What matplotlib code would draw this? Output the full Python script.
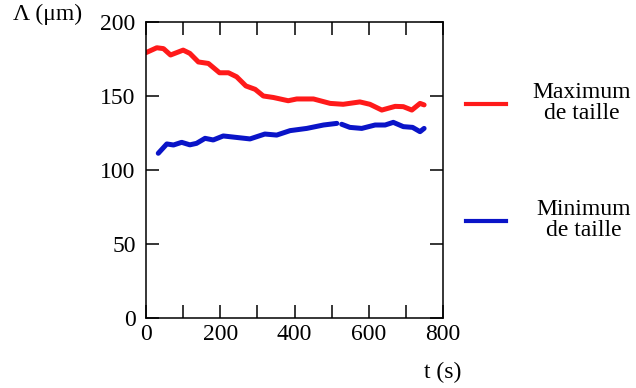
import numpy as np
import matplotlib
matplotlib.use('Agg')
import matplotlib.pyplot as plt

plt.rcParams['font.family'] = ['Liberation Serif', 'DejaVu Serif']

# maximum de taille (red)
t_max = [0, 29, 47, 66, 100, 118, 141, 168, 198, 222, 244, 269, 294, 316, 343,
         383, 406, 451, 496, 531, 576, 603, 635, 671, 693, 716, 738, 749]
v_max = [179.3, 182.6, 182, 177.7, 181, 178.8, 173, 172, 165.7, 165.7, 163, 156.8,
         154.5, 150, 149, 146.8, 148, 148, 145, 144.4, 146, 144.4, 140.5, 143,
         142.8, 140.5, 145, 144]

# minimum de taille (blue), two pieces with a gap near 520 s
t_min_a = [33, 56, 74, 96, 118, 136, 159, 181, 208, 244, 280, 320, 352, 388, 433, 478, 514]
v_min_a = [111.3, 117.6, 116.9, 118.7, 117, 118, 121.4, 120.3, 123, 122, 121, 124.3,
           123.6, 126.6, 128.1, 130.4, 131.5]
t_min_b = [527, 549, 581, 617, 644, 666, 693, 718, 738, 749]
v_min_b = [130.9, 128.8, 128.1, 130.4, 130.4, 132.2, 129.3, 128.8, 125.9, 128.1]

red = '#ff1a1a'
blue = '#0a14c8'
fs = 17

fig = plt.figure(figsize=(6.36, 3.88), dpi=100)
ax = fig.add_axes([0.2296, 0.1804, 0.4670, 0.7629])

ax.plot(t_max, v_max, color=red, lw=3.6, solid_capstyle='round')
ax.plot(t_min_a, v_min_a, color=blue, lw=3.6, solid_capstyle='round')
ax.plot(t_min_b, v_min_b, color=blue, lw=3.6, solid_capstyle='round')

ax.set_xlim(0, 800)
ax.set_ylim(0, 200)
ax.set_xticks(np.arange(0, 801, 200))
ax.set_xticks(np.arange(100, 800, 200), minor=True)
ax.set_yticks(np.arange(0, 201, 50))
ax.tick_params(which='both', direction='in', top=True, right=True,
               length=9.5, width=1.1, labelsize=fs)
ax.tick_params(axis='x', pad=4.5)
ax.tick_params(axis='y', pad=7.5)
for s in ax.spines.values():
    s.set_linewidth(1.1)

fig.text(13 / 636, 1 - 14 / 388, 'Λ (μm)', fontsize=fs, va='center', ha='left')
fig.text(443 / 636, 1 - 372 / 388, 't (s)', fontsize=fs, va='center', ha='center')

# legend drawn by hand
fig.add_artist(plt.Line2D([466 / 636, 506 / 636], [1 - 104 / 388] * 2, color=red, lw=3.0))
fig.add_artist(plt.Line2D([466 / 636, 506 / 636], [1 - 221 / 388] * 2, color=blue, lw=3.0))
fig.text(582 / 636, 1 - 103 / 388, 'Maximum\nde taille', fontsize=fs, ha='center',
         va='center', linespacing=0.95)
fig.text(584 / 636, 1 - 220 / 388, 'Minimum\nde taille', fontsize=fs, ha='center',
         va='center', linespacing=0.95)

plt.savefig('out.png', dpi=100)
